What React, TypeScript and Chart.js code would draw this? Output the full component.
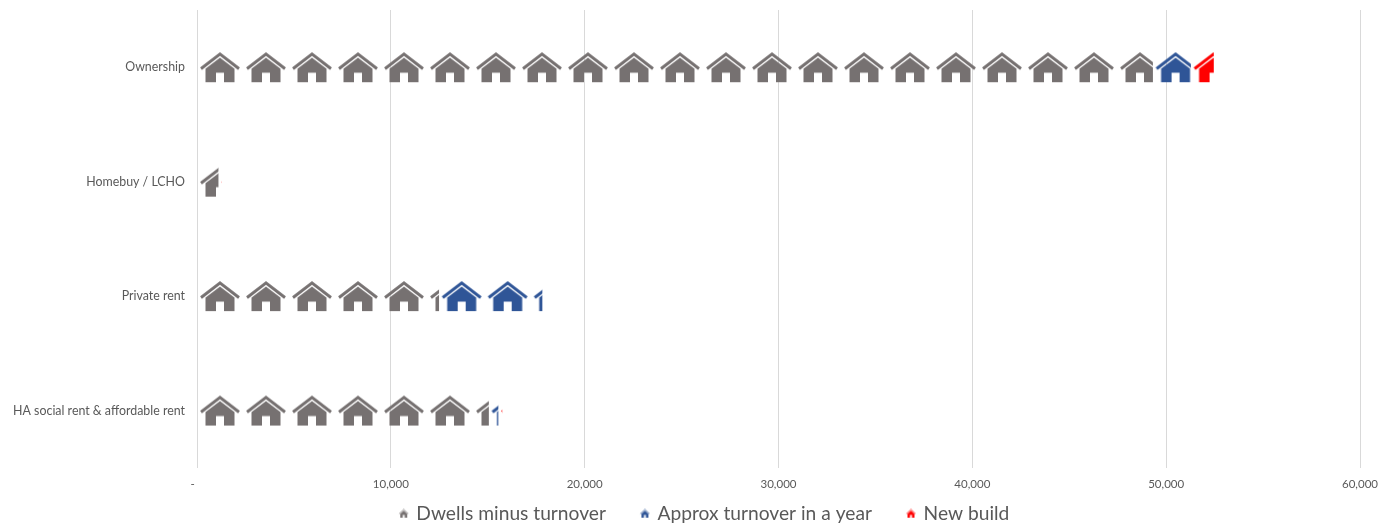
import { useEffect, useRef } from "react";
import { Chart, registerables } from "chart.js";

Chart.register(...registerables);

const categories = ["Ownership", "Homebuy / LCHO", "Private rent", "HA social rent & affordable rent"];
const dwellsMinusTurnover = [49300, 1090, 12470, 15040];
const approxTurnover = [1960, 20, 5330, 490];
const newBuild = [1180, 150, 0, 200];
const seriesNames = ["Dwells minus turnover", "Approx turnover in a year", "New build"];
const seriesColors = ["#767171", "#2F5597", "#FF0000"];

const TILE_W = 46;
const TILE_H = 34;

// One house glyph in a 46x34 box; the bars repeat it along their length.
function paintHouse(ctx: CanvasRenderingContext2D, color: string) {
  ctx.fillStyle = color;
  ctx.strokeStyle = color;
  ctx.lineWidth = 3;
  ctx.lineJoin = "miter";
  ctx.beginPath();
  ctx.moveTo(4, 18.5);
  ctx.lineTo(23, 3.9);
  ctx.lineTo(42, 18.5);
  ctx.stroke();
  ctx.beginPath();
  ctx.moveTo(8.5, 18.6);
  ctx.lineTo(23, 7.6);
  ctx.lineTo(37.5, 18.6);
  ctx.lineTo(37.5, 32);
  ctx.lineTo(27, 32);
  ctx.lineTo(27, 22.5);
  ctx.lineTo(19, 22.5);
  ctx.lineTo(19, 32);
  ctx.lineTo(8.5, 32);
  ctx.closePath();
  ctx.fill();
}

function makeTile(color: string) {
  const c = document.createElement("canvas");
  c.width = TILE_W;
  c.height = TILE_H;
  paintHouse(c.getContext("2d")!, color);
  return c;
}

function makeLegendIcon(color: string) {
  const c = document.createElement("canvas");
  c.width = 11;
  c.height = 10;
  const ctx = c.getContext("2d")!;
  ctx.scale(11 / TILE_W, 10 / TILE_H);
  paintHouse(ctx, color);
  return c;
}

const FONT = "Lato, 'Open Sans', sans-serif";

// The legend sits over the lower part of the axis box, a little right of centre.
const legendPlacement = {
  id: "legendPlacement",
  afterLayout(chart: any) {
    const legend = chart.legend;
    legend.top -= 24;
    legend.bottom -= 24;
    legend.left += 25;
    legend.right += 25;
  },
};

export default function App() {
  const ref = useRef<HTMLCanvasElement>(null);

  useEffect(() => {
    const canvas = ref.current!;
    const ctx2d = canvas.getContext("2d")!;
    const series = [dwellsMinusTurnover, approxTurnover, newBuild];
    const tiles = seriesColors.map(makeTile);
    const icons = seriesColors.map(makeLegendIcon);

    // The pattern is anchored to the start of each segment so the houses restart there.
    const tileFill = (seriesIndex: number) => (c: any) => {
      const chart = c.chart;
      const xs = chart.scales.x;
      const ys = chart.scales.y;
      if (!xs || !ys || c.dataIndex === undefined) return seriesColors[seriesIndex];
      let base = 0;
      for (let i = 0; i < seriesIndex; i++) base += series[i][c.dataIndex];
      const x = xs.getPixelForValue(base);
      const y = ys.getPixelForValue(c.dataIndex) - TILE_H / 2;
      const pattern = ctx2d.createPattern(tiles[seriesIndex], "repeat-x")!;
      pattern.setTransform(new DOMMatrix([1, 0, 0, 1, x, y]));
      return pattern;
    };

    const chart = new Chart(canvas, {
      type: "bar",
      plugins: [legendPlacement],
      data: {
        labels: categories,
        datasets: series.map((values, i) => ({
          label: seriesNames[i],
          data: values,
          backgroundColor: tileFill(i),
          borderWidth: 0,
          barThickness: TILE_H,
          stack: "dwellings",
        })),
      },
      options: {
        indexAxis: "y",
        responsive: false,
        animation: false,
        events: [],
        layout: { padding: { top: 10, right: 32, bottom: -33, left: 0 } },
        scales: {
          x: {
            stacked: true,
            min: 0,
            max: 60000,
            border: { display: false },
            grid: { color: "#D9D9D9", lineWidth: 1, drawTicks: false },
            afterFit: (s: any) => { s.height = 24; },
            ticks: {
              stepSize: 10000,
              maxRotation: 0,
              padding: 10,
              color: "#595959",
              font: { family: FONT, size: 11.5 },
              callback: (v: any) => (v === 0 ? "-   " : Number(v).toLocaleString("en-US")),
            },
          },
          y: {
            stacked: true,
            border: { display: false },
            grid: { display: false, drawTicks: false },
            afterFit: (s: any) => {
              s.width = 197;
              s.paddingTop = 0;
              s.paddingBottom = 0;
            },
            ticks: {
              padding: 12,
              color: "#595959",
              font: { family: FONT, size: 12.4 },
            },
          },
        },
        plugins: {
          tooltip: { enabled: false },
          legend: {
            position: "bottom",
            labels: {
              usePointStyle: true,
              pointStyleWidth: 6,
              boxHeight: 10,
              padding: 36,
              color: "#595959",
              font: { family: FONT, size: 19.2 },
              generateLabels: () =>
                seriesNames.map((text, i) => ({
                  text,
                  datasetIndex: i,
                  pointStyle: icons[i],
                  fontColor: "#595959",
                  fillStyle: seriesColors[i],
                  strokeStyle: seriesColors[i],
                  lineWidth: 0,
                })),
            },
          },
        },
      },
    } as any);
    return () => chart.destroy();
  }, []);

  return (
    <div style={{ position: "absolute", left: 0, top: 0, width: 1392, height: 524, background: "#fff" }}>
      <canvas ref={ref} width={1392} height={524} style={{ display: "block" }} />
    </div>
  );
}
